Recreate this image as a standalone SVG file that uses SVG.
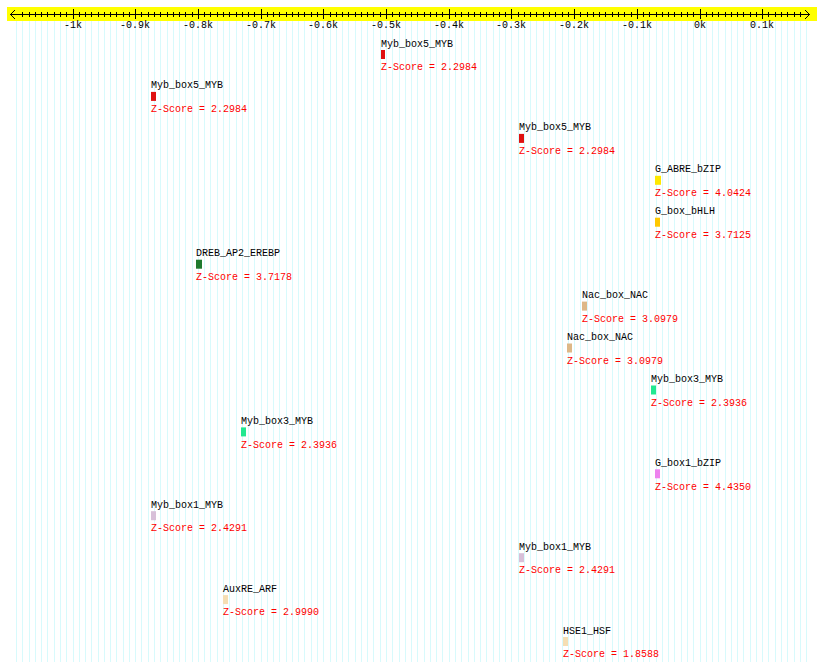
<svg xmlns="http://www.w3.org/2000/svg" xmlns:xlink="http://www.w3.org/1999/xlink" width="820" height="671" viewBox="0 0 820 671">
<style>
text{font-family:"Liberation Mono","DejaVu Sans Mono",monospace;font-size:10px}
.lab{fill:#000}
.z{fill:#ff0000}
.tl{fill:#000;text-anchor:middle}
</style>
<defs>
<path id="cols" d="M22.5 0v1M29.5 0v1M35.5 0v1M41.5 0v1M47.5 0v1M54.5 0v1M60.5 0v1M66.5 0v1M73.5 0v1M79.5 0v1M85.5 0v1M91.5 0v1M98.5 0v1M104.5 0v1M110.5 0v1M116.5 0v1M123.5 0v1M129.5 0v1M135.5 0v1M141.5 0v1M148.5 0v1M154.5 0v1M160.5 0v1M167.5 0v1M173.5 0v1M179.5 0v1M185.5 0v1M192.5 0v1M198.5 0v1M204.5 0v1M210.5 0v1M217.5 0v1M223.5 0v1M229.5 0v1M236.5 0v1M242.5 0v1M248.5 0v1M254.5 0v1M261.5 0v1M267.5 0v1M273.5 0v1M279.5 0v1M286.5 0v1M292.5 0v1M298.5 0v1M304.5 0v1M311.5 0v1M317.5 0v1M323.5 0v1M330.5 0v1M336.5 0v1M342.5 0v1M348.5 0v1M355.5 0v1M361.5 0v1M367.5 0v1M373.5 0v1M380.5 0v1M386.5 0v1M392.5 0v1M399.5 0v1M405.5 0v1M411.5 0v1M417.5 0v1M424.5 0v1M430.5 0v1M436.5 0v1M442.5 0v1M449.5 0v1M455.5 0v1M461.5 0v1M468.5 0v1M474.5 0v1M480.5 0v1M486.5 0v1M493.5 0v1M499.5 0v1M505.5 0v1M511.5 0v1M518.5 0v1M524.5 0v1M530.5 0v1M536.5 0v1M543.5 0v1M549.5 0v1M555.5 0v1M562.5 0v1M568.5 0v1M574.5 0v1M580.5 0v1M587.5 0v1M593.5 0v1M599.5 0v1M605.5 0v1M612.5 0v1M618.5 0v1M624.5 0v1M631.5 0v1M637.5 0v1M643.5 0v1M649.5 0v1M656.5 0v1M662.5 0v1M668.5 0v1M674.5 0v1M681.5 0v1M687.5 0v1M693.5 0v1M700.5 0v1M706.5 0v1M712.5 0v1M718.5 0v1M725.5 0v1M731.5 0v1M737.5 0v1M743.5 0v1M750.5 0v1M756.5 0v1M762.5 0v1M768.5 0v1M775.5 0v1M781.5 0v1M787.5 0v1M794.5 0v1M800.5 0v1"/>
</defs>
<rect width="820" height="671" fill="#fff"/>
<g id="grid" stroke="#d8fafc" stroke-width="1" fill="none">
<use xlink:href="#cols" href="#cols" transform="translate(0,21) scale(1,641)"/>
<path d="M16.5 21V662M806.5 21V662"/>
</g>
<g id="ruler">
<rect x="7" y="7" width="810" height="14" fill="#ffff00"/>
<g stroke="#000" stroke-width="1" fill="none">
<path d="M10 14.5H810M15 10L10.5 14.5L15 19M805 10L809.5 14.5L805 19"/>
<use xlink:href="#cols" href="#cols" transform="translate(0,12) scale(1,5)"/>
<path d="M73.5 9v10M135.5 9v10M198.5 9v10M261.5 9v10M323.5 9v10M386.5 9v10M449.5 9v10M511.5 9v10M574.5 9v10M637.5 9v10M700.5 9v10M762.5 9v10"/>
</g>
<text class="tl" x="73" y="28">-1k</text>
<text class="tl" x="135" y="28">-0.9k</text>
<text class="tl" x="198" y="28">-0.8k</text>
<text class="tl" x="261" y="28">-0.7k</text>
<text class="tl" x="323" y="28">-0.6k</text>
<text class="tl" x="386" y="28">-0.5k</text>
<text class="tl" x="449" y="28">-0.4k</text>
<text class="tl" x="511" y="28">-0.3k</text>
<text class="tl" x="574" y="28">-0.2k</text>
<text class="tl" x="637" y="28">-0.1k</text>
<text class="tl" x="700" y="28">0k</text>
<text class="tl" x="762" y="28">0.1k</text>
</g>
<g id="f0" transform="translate(381,46.5)"><text class="lab" x="0" y="0">Myb_box5_MYB</text><rect x="0" y="3.5" width="4" height="9" fill="#e01010"/><text class="z" x="0" y="23.8">Z-Score = 2.2984</text></g>
<g id="f1" transform="translate(151,88.4)"><text class="lab" x="0" y="0">Myb_box5_MYB</text><rect x="0" y="3.5" width="5" height="9" fill="#e01010"/><text class="z" x="0" y="23.8">Z-Score = 2.2984</text></g>
<g id="f2" transform="translate(519,130.4)"><text class="lab" x="0" y="0">Myb_box5_MYB</text><rect x="0" y="3.5" width="5" height="9" fill="#e01010"/><text class="z" x="0" y="23.8">Z-Score = 2.2984</text></g>
<g id="f3" transform="translate(655,172.3)"><text class="lab" x="0" y="0">G_ABRE_bZIP</text><rect x="0" y="3.5" width="6" height="9" fill="#ffe800"/><text class="z" x="0" y="23.8">Z-Score = 4.0424</text></g>
<g id="f4" transform="translate(655,214.2)"><text class="lab" x="0" y="0">G_box_bHLH</text><rect x="0" y="3.5" width="5" height="9" fill="#ffc800"/><text class="z" x="0" y="23.8">Z-Score = 3.7125</text></g>
<g id="f5" transform="translate(196,256.2)"><text class="lab" x="0" y="0">DREB_AP2_EREBP</text><rect x="0" y="3.5" width="6" height="9" fill="#1f7a2e"/><text class="z" x="0" y="23.8">Z-Score = 3.7178</text></g>
<g id="f6" transform="translate(582,298.1)"><text class="lab" x="0" y="0">Nac_box_NAC</text><rect x="0" y="3.5" width="5" height="9" fill="#deb887"/><text class="z" x="0" y="23.8">Z-Score = 3.0979</text></g>
<g id="f7" transform="translate(567,340)"><text class="lab" x="0" y="0">Nac_box_NAC</text><rect x="0" y="3.5" width="5" height="9" fill="#deb887"/><text class="z" x="0" y="23.8">Z-Score = 3.0979</text></g>
<g id="f8" transform="translate(651,382)"><text class="lab" x="0" y="0">Myb_box3_MYB</text><rect x="0" y="3.5" width="5" height="9" fill="#22e890"/><text class="z" x="0" y="23.8">Z-Score = 2.3936</text></g>
<g id="f9" transform="translate(241,423.9)"><text class="lab" x="0" y="0">Myb_box3_MYB</text><rect x="0" y="3.5" width="5" height="9" fill="#22e890"/><text class="z" x="0" y="23.8">Z-Score = 2.3936</text></g>
<g id="f10" transform="translate(655,465.8)"><text class="lab" x="0" y="0">G_box1_bZIP</text><rect x="0" y="3.5" width="5" height="9" fill="#ee82ee"/><text class="z" x="0" y="23.8">Z-Score = 4.4350</text></g>
<g id="f11" transform="translate(151,507.7)"><text class="lab" x="0" y="0">Myb_box1_MYB</text><rect x="0" y="3.5" width="5" height="9" fill="#d8bfd8"/><text class="z" x="0" y="23.8">Z-Score = 2.4291</text></g>
<g id="f12" transform="translate(519,549.7)"><text class="lab" x="0" y="0">Myb_box1_MYB</text><rect x="0" y="3.5" width="5" height="9" fill="#d8bfd8"/><text class="z" x="0" y="23.8">Z-Score = 2.4291</text></g>
<g id="f13" transform="translate(223,591.6)"><text class="lab" x="0" y="0">AuxRE_ARF</text><rect x="0" y="3.5" width="5" height="9" fill="#f5deb3"/><text class="z" x="0" y="23.8">Z-Score = 2.9990</text></g>
<g id="f14" transform="translate(563,633.5)"><text class="lab" x="0" y="0">HSE1_HSF</text><rect x="0" y="3.5" width="5" height="9" fill="#f5deb3"/><text class="z" x="0" y="23.8">Z-Score = 1.8588</text></g>
</svg>
